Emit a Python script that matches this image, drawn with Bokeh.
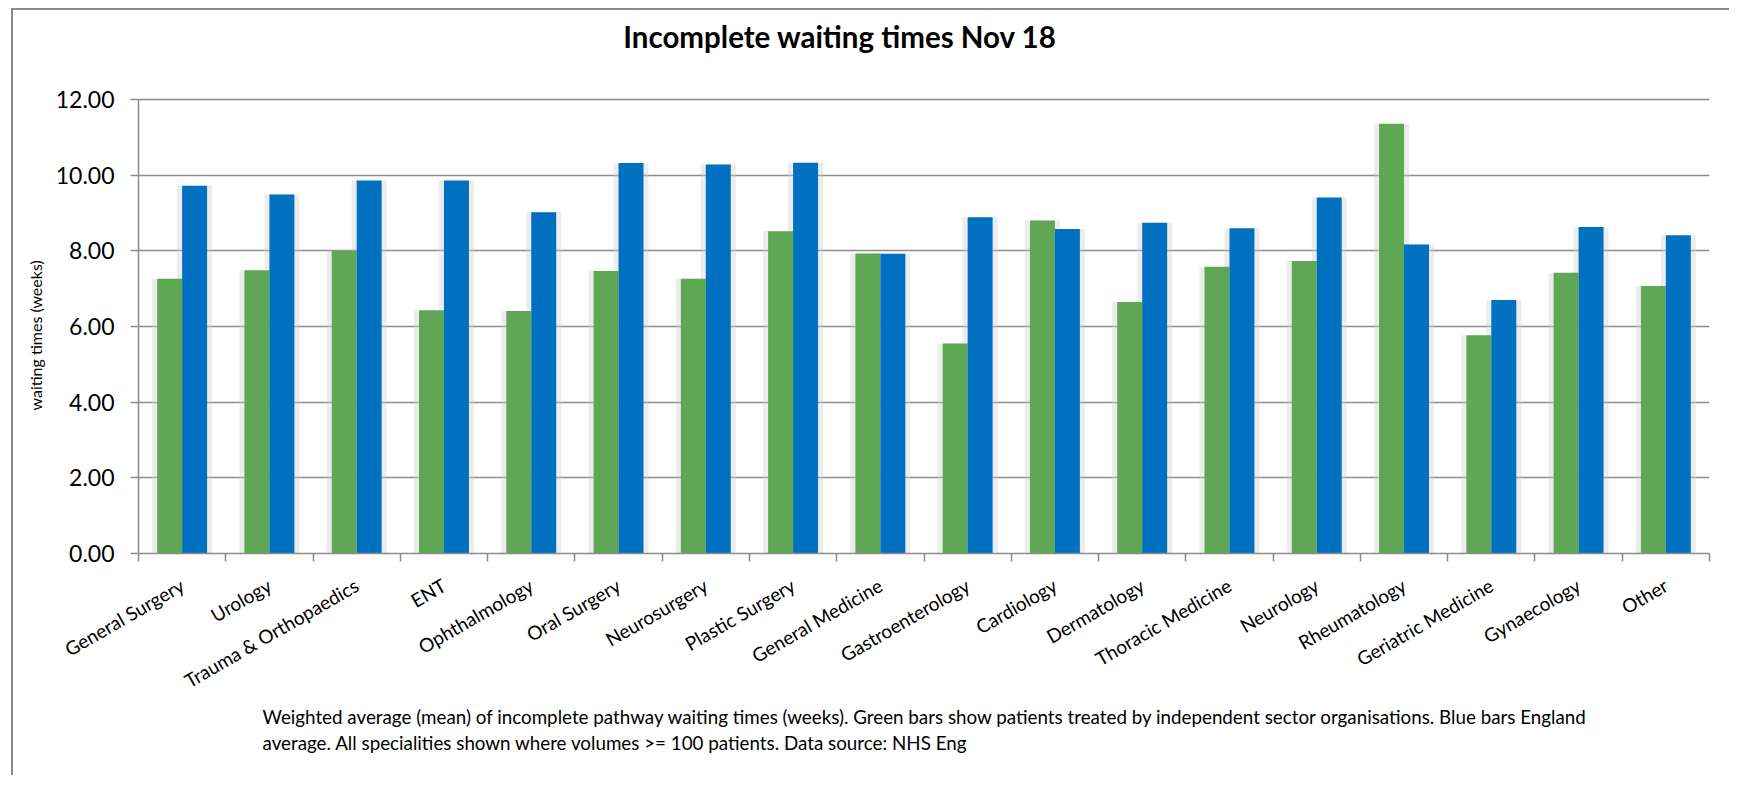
import numpy as np
from bokeh.plotting import figure
from bokeh.models import Range1d, FixedTicker, NumeralTickFormatter, Label, Title, ColumnDataSource
from bokeh.transform import dodge
from bokeh.embed import file_html
from bokeh.resources import INLINE

# ---------------- data ----------------
categories = ["General Surgery", "Urology", "Trauma & Orthopaedics", "ENT", "Ophthalmology",
              "Oral Surgery", "Neurosurgery", "Plastic Surgery", "General Medicine",
              "Gastroenterology", "Cardiology", "Dermatology", "Thoracic Medicine",
              "Neurology", "Rheumatology", "Geriatric Medicine", "Gynaecology", "Other"]
independent_sector = [7.26, 7.49, 8.00, 6.43, 6.41, 7.47, 7.26, 8.52, 7.93,
                      5.55, 8.80, 6.65, 7.58, 7.73, 11.36, 5.77, 7.42, 7.07]
england_average = [9.72, 9.49, 9.86, 9.86, 9.02, 10.32, 10.28, 10.33, 7.92,
                   8.89, 8.58, 8.74, 8.60, 9.41, 8.17, 6.70, 8.63, 8.41]
y_ticks = [0, 2, 4, 6, 8, 10, 12]
title_text = "Incomplete waiting times Nov 18"
y_label = "waiting times (weeks)"
footnote_lines = [
    "Weighted average (mean) of incomplete pathway waiting times (weeks). Green bars show patients treated by independent sector organisations. Blue bars England",
    "average. All specialities shown where volumes >= 100 patients. Data source: NHS Eng",
]

# ---------------- layout / styles ----------------
GREEN = "#5fa755"
BLUE = "#0070c0"
GRAY = "#8c8c8c"
FONT = "Lato"
BAR_W = 0.286
HALF = BAR_W / 2

W, H = 1718, 767
BORDER_BOTTOM = 224
AXIS_PX = 454                      # pixel height of the 0..12 value span
FRAME_PX = H - BORDER_BOTTOM       # frame reaches the top so the title can sit inside it
px_per_unit = AXIS_PX / y_ticks[-1]
y_top = FRAME_PX / px_per_unit

n = len(categories)
centers = [i + 0.5 for i in range(n)]
bounds = list(range(n + 1))

src = ColumnDataSource(dict(x=centers, ind=independent_sector, eng=england_average))

p = figure(width=W, height=H, x_range=Range1d(0, n), y_range=Range1d(0, y_top),
           output_backend="svg", toolbar_location=None, title=None,
           min_border_left=125, min_border_right=22, min_border_top=0,
           min_border_bottom=BORDER_BOTTOM,
           background_fill_color="white", border_fill_color="white",
           outline_line_color=None, outline_line_alpha=0)
p.styles = {"margin-left": "11px", "margin-top": "8px",
            "border-left": "2px solid #8c8c8c", "border-top": "2px solid #8c8c8c"}

# soft shadow halos
p.vbar(x=dodge("x", -HALF, range=p.x_range), top="ind", width=BAR_W + 0.115, source=src,
       fill_color="#d0d0d0", fill_alpha=0.4, line_color=None)
p.vbar(x=dodge("x", HALF, range=p.x_range), top="eng", width=BAR_W + 0.115, source=src,
       fill_color="#d0d0d0", fill_alpha=0.4, line_color=None)
# bars
p.vbar(x=dodge("x", -HALF, range=p.x_range), top="ind", width=BAR_W, source=src,
       fill_color=GREEN, line_color=None)
p.vbar(x=dodge("x", HALF, range=p.x_range), top="eng", width=BAR_W, source=src,
       fill_color=BLUE, line_color=None)

# grids
p.xgrid.visible = False
p.ygrid.ticker = FixedTicker(ticks=y_ticks)
p.ygrid.grid_line_color = GRAY
p.ygrid.grid_line_width = 1.5

# x axis
xa = p.xaxis[0]
xa.ticker = FixedTicker(ticks=centers, minor_ticks=bounds)
xa.major_label_overrides = {float(c): name for c, name in zip(centers, categories)}
xa.major_label_orientation = np.pi / 6
xa.major_tick_line_color = None
xa.major_tick_out = 8
xa.major_tick_in = 0
xa.minor_tick_out = 8
xa.minor_tick_in = 0
xa.minor_tick_line_color = GRAY
xa.minor_tick_line_width = 1.5
xa.axis_line_color = GRAY
xa.axis_line_width = 1.5
xa.major_label_standoff = 22
xa.major_label_text_font = FONT
xa.major_label_text_font_size = "19px"
xa.major_label_text_color = "black"

# y axis
ya = p.yaxis[0]
ya.bounds = (y_ticks[0], y_ticks[-1])
ya.ticker = FixedTicker(ticks=y_ticks)
ya.formatter = NumeralTickFormatter(format="0.00")
ya.major_tick_out = 8
ya.major_tick_in = 0
ya.major_tick_line_color = GRAY
ya.major_tick_line_width = 1.5
ya.minor_tick_line_color = None
ya.axis_line_color = GRAY
ya.axis_line_width = 1.5
ya.major_label_standoff = 16
ya.major_label_text_font = FONT
ya.major_label_text_font_size = "23px"
ya.major_label_text_color = "black"

# y axis title: a side title so it can be centred on the 0..12 span (not the whole frame)
p.add_layout(Title(text=y_label, align="left", offset=143, vertical_align="bottom",
                   standoff=16, text_font=FONT, text_font_size="16px",
                   text_font_style="normal", text_color="black"), "left")

# chart title inside the (extended) frame, above the value area
p.add_layout(Label(x=8.04, y=y_top - 26 / px_per_unit, text=title_text,
                   text_font=FONT, text_font_size="29.5px", text_font_style="bold",
                   text_align="center", text_baseline="alphabetic", text_color="black"))

# footnote as one two-line title below the x axis
p.add_layout(Title(text="\n".join(footnote_lines), align="left", offset=124,
                   vertical_align="top", standoff=0, text_font=FONT,
                   text_font_size="18.8px", text_font_style="normal",
                   text_line_height=1.15, text_color="black"), "below")

open("out.html", "w").write(file_html(p, INLINE))
